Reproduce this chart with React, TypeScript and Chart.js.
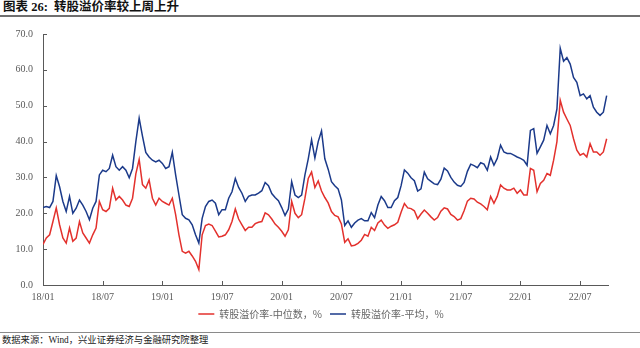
import React, { useEffect, useRef } from "react";
import { Chart, registerables } from "chart.js";

Chart.register(...registerables);

const TITLE = "图表 26:  转股溢价率较上周上升";
const SOURCE = "数据来源：Wind，兴业证券经济与金融研究院整理";
const SERIES_NAMES = ["转股溢价率-中位数，%", "转股溢价率-平均，%"];
const X_TICK_LABELS = ["18/01", "18/07", "19/01", "19/07", "20/01", "20/07", "21/01", "21/07", "22/01", "22/07"];
const Y_MIN = 0;
const Y_MAX = 70;
const Y_STEP = 10;
// observations: three per month, starting Jan 2018 (x measured in months since 2018/01)
const OBS_PER_MONTH = 3;
const X_MAX_MONTHS = 56.8;

const medianValues = [
  11.3, 13.1, 14.0, 17.7, 21.5, 16.8, 13.1, 11.7, 15.9, 12.2,
  13.1, 17.7, 14.5, 13.1, 11.7, 14.0, 15.9, 23.3, 21.0, 20.5,
  21.4, 27.0, 23.7, 24.7, 23.7, 22.3, 21.9, 24.2, 31.0, 35.0,
  28.0, 27.0, 29.3, 24.2, 22.3, 24.2, 23.3, 22.8, 22.3, 24.2,
  19.6, 14.0, 9.4, 8.9, 9.4,
  8.1, 6.6, 4.3, 14.0, 16.6, 17.0, 16.6, 15.0, 13.4, 13.6,
  14.0, 15.4, 17.7, 21.2, 18.4, 16.8, 15.2, 16.1, 16.1, 17.1,
  17.5, 17.7, 20.1, 19.6, 18.4, 17.0, 16.1, 15.0, 13.6, 15.4,
  23.3, 20.0, 18.8, 19.6, 24.2, 29.7, 31.5, 27.2, 29.0, 26.2,
  24.4, 22.9, 20.5, 19.4,
  19.0, 17.0, 11.9, 12.9, 10.9, 11.1, 11.6, 12.5, 14.1, 13.6,
  16.1, 15.2, 17.3, 18.1, 16.7, 15.8, 16.4, 16.8, 17.5, 20.3,
  22.7, 21.5, 21.3, 20.7, 18.5, 19.8, 20.9, 20.0, 19.0, 18.1,
  18.8, 20.6, 21.5, 21.2, 19.7, 19.1, 18.1, 18.5, 20.7, 23.4,
  24.2, 24.0, 23.1,
  22.6, 21.9, 21.0, 24.7, 22.8, 24.7, 27.9, 27.0, 26.5, 26.5,
  27.0, 25.6, 26.5, 25.1, 25.1, 32.5, 32.0, 26.0, 28.3, 29.2,
  31.1, 30.6, 34.8, 40.0, 51.5, 48.2, 46.3, 44.5, 40.8, 37.6,
  36.2, 36.7, 35.7, 39.4, 37.1, 37.1, 36.2, 37.1, 40.8,
];

const meanValues = [
  21.6, 21.9, 21.6, 23.3, 30.5, 27.4, 23.3, 20.5, 24.7, 20.0,
  21.4, 23.7, 22.3, 20.5, 18.2, 21.4, 23.3, 30.7, 32.0, 31.6,
  32.5, 36.2, 33.0, 32.0, 33.0, 32.0, 29.9, 32.5, 40.0, 46.5,
  41.5, 37.0, 35.7, 34.8, 34.3, 34.8, 33.9, 32.5, 33.0, 37.0,
  30.7, 25.1, 19.6, 18.6, 18.2,
  16.8, 14.0, 11.7, 18.6, 21.9, 23.3, 23.7, 22.8, 19.6, 21.0,
  21.0, 24.2, 26.0, 29.7, 27.2, 25.6, 23.3, 24.7, 25.1, 25.1,
  25.6, 26.3, 28.6, 27.7, 25.5, 24.4, 23.5, 21.6, 19.4, 21.2,
  28.8, 25.1, 24.4, 25.1, 30.7, 35.2, 40.5, 35.4, 40.0, 43.0,
  35.2, 32.3, 28.8, 27.7,
  26.8, 23.7, 16.6, 17.9, 16.1, 17.3, 18.1, 18.5, 17.9, 17.9,
  20.2, 18.8, 22.3, 24.7, 23.5, 21.6, 21.6, 23.5, 24.4, 27.7,
  32.1, 31.2, 29.9, 29.1, 26.2, 26.8, 31.5, 29.6, 28.9, 28.2,
  28.0, 29.5, 32.6, 31.8, 30.0, 28.7, 27.8, 27.5, 28.6, 31.7,
  33.7, 33.3, 32.7,
  34.1, 33.7, 32.0, 35.7, 33.4, 35.3, 39.0, 37.1, 36.7, 36.7,
  36.2, 35.7, 35.3, 34.8, 33.4, 43.1, 43.6, 36.7, 38.5, 40.4,
  44.5, 42.2, 44.5, 49.1, 66.0, 62.4, 63.4, 61.6, 57.9, 56.5,
  52.8, 53.3, 51.9, 52.8, 49.6, 48.2, 47.3, 48.2, 52.8,
];

const RED = "#E3312D";
const BLUE = "#1B3A8A";
const AXIS_COLOR = "#595959";
const TICK_COLOR = "#595959";
const SERIF = '"Liberation Serif", "Noto Sans CJK SC", serif';
const CJK = '"Noto Sans CJK SC", "Liberation Serif", sans-serif';
const LEGEND_SHIFT = 17;

const toPoints = (vals: number[]) => vals.map((v, i) => ({ x: i / OBS_PER_MONTH, y: v }));

const inwardTicks = {
  id: "inwardTicks",
  afterLayout(chart: any) {
    const lg = chart.legend;
    if (lg) {
      lg.left += LEGEND_SHIFT;
      lg.right += LEGEND_SHIFT;
    }
  },
  afterDatasetsDraw(chart: any) {
    const { ctx, chartArea, scales } = chart;
    const x = scales.x;
    const y = scales.y;
    ctx.save();
    ctx.strokeStyle = AXIS_COLOR;
    ctx.lineWidth = 1;
    ctx.beginPath();
    y.ticks.forEach((t: any) => {
      const py = Math.round(y.getPixelForValue(t.value)) + 0.5;
      ctx.moveTo(chartArea.left, py);
      ctx.lineTo(chartArea.left + 4, py);
    });
    x.ticks.forEach((t: any) => {
      const px = Math.round(x.getPixelForValue(t.value)) + 0.5;
      ctx.moveTo(px, chartArea.bottom);
      ctx.lineTo(px, chartArea.bottom - 4);
    });
    ctx.stroke();
    ctx.restore();
  },
};

export default function App() {
  const ref = useRef<HTMLCanvasElement | null>(null);

  useEffect(() => {
    if (!ref.current) return;
    const chart = new Chart(ref.current, {
      type: "line",
      data: {
        datasets: [
          {
            label: SERIES_NAMES[0],
            data: toPoints(medianValues),
            borderColor: RED,
            backgroundColor: RED,
            borderWidth: 1.5,
            pointRadius: 0,
            tension: 0,
          },
          {
            label: SERIES_NAMES[1],
            data: toPoints(meanValues),
            borderColor: BLUE,
            backgroundColor: BLUE,
            borderWidth: 1.5,
            pointRadius: 0,
            tension: 0,
          },
        ],
      },
      options: {
        animation: false,
        responsive: false,
        devicePixelRatio: 1,
        parsing: false as any,
        layout: { padding: { top: 5, right: 32, left: 0, bottom: 0 } },
        plugins: {
          legend: {
            position: "bottom",
            labels: {
              usePointStyle: true,
              pointStyle: "line",
              pointStyleWidth: 16,
              boxHeight: 10,
              padding: 8,
              color: "#666666",
              font: { family: CJK, size: 10 },
            },
          },
          tooltip: { enabled: false },
        },
        scales: {
          x: {
            type: "linear",
            min: 0,
            max: X_MAX_MONTHS,
            grid: { display: false, drawTicks: false },
            border: { display: true, color: AXIS_COLOR, width: 1 },
            afterFit: (s: any) => {
              s.height = 16;
            },
            ticks: {
              stepSize: 6,
              includeBounds: false,
              autoSkip: false,
              maxRotation: 0,
              padding: 6,
              color: TICK_COLOR,
              font: { family: SERIF, size: 10 },
              callback: (v: any) => {
                const idx = Math.round(Number(v) / 6);
                return Math.abs(Number(v) - idx * 6) < 1e-6 ? X_TICK_LABELS[idx] ?? "" : "";
              },
            },
          },
          y: {
            min: Y_MIN,
            max: Y_MAX,
            grid: { display: false, drawTicks: false },
            border: { display: true, color: AXIS_COLOR, width: 1 },
            afterFit: (s: any) => {
              s.width = 43;
            },
            ticks: {
              stepSize: Y_STEP,
              padding: 10,
              color: TICK_COLOR,
              font: { family: SERIF, size: 10 },
              callback: (v: any) => Number(v).toFixed(1),
            },
          },
        },
      },
      plugins: [inwardTicks],
    } as any);
    return () => chart.destroy();
  }, []);

  return (
    <div
      style={{
        position: "fixed",
        left: 0,
        top: 0,
        width: 640,
        height: 348,
        background: "#ffffff",
        overflow: "hidden",
      }}
    >
      <div
        style={{
          position: "absolute",
          left: 3,
          top: 0,
          fontFamily: SERIF,
          fontWeight: 700,
          fontSize: 12.5,
          lineHeight: "15px",
          color: "#111111",
          whiteSpace: "pre",
        }}
      >
        {TITLE}
      </div>
      <div
        style={{
          position: "absolute",
          left: 0,
          top: 15,
          width: 640,
          height: 0,
          borderTop: "2px solid #6f6f6f",
        }}
      />
      <canvas
        ref={ref}
        width={640}
        height={311}
        style={{ position: "absolute", left: 0, top: 18, width: 640, height: 311 }}
      />
      <div
        style={{
          position: "absolute",
          left: 0,
          top: 332,
          width: 640,
          height: 0,
          borderTop: "1px solid #8a8a8a",
        }}
      />
      <div
        style={{
          position: "absolute",
          left: 2,
          top: 334,
          fontFamily: SERIF,
          fontSize: 9.3,
          lineHeight: "13px",
          color: "#222222",
          whiteSpace: "pre",
        }}
      >
        {SOURCE}
      </div>
    </div>
  );
}
